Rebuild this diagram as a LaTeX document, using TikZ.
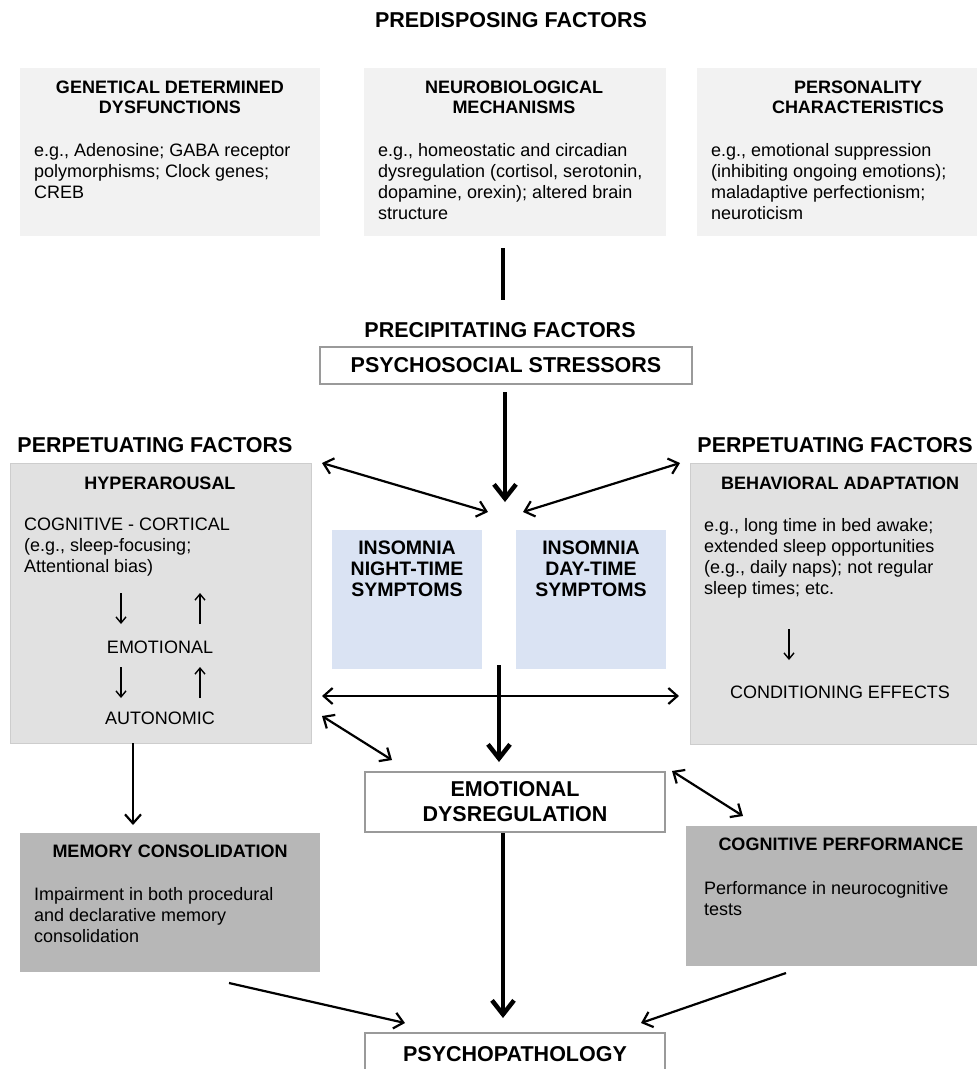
\documentclass[tikz,border=0pt]{standalone}
\usepackage{fontspec}
\setmainfont{Liberation Sans}
\usetikzlibrary{arrows.meta}
\definecolor{topgray}{HTML}{F2F2F2}
\definecolor{midgray}{HTML}{E1E1E1}
\definecolor{midborder}{HTML}{CDCDCD}
\definecolor{darkgray}{HTML}{B7B7B7}
\definecolor{insblue}{HTML}{DAE3F3}
\definecolor{boxborder}{HTML}{9A9A9A}
\tikzset{
  box/.style={anchor=north west, inner sep=0pt, outer sep=0pt},
  topbox/.style={box, fill=topgray},
  midbox/.style={box, fill=midgray, draw=midborder, line width=1pt},
  darkbox/.style={box, fill=darkgray},
  insbox/.style={box, fill=insblue},
  whitebox/.style={box, fill=white, draw=boxborder, line width=1.6pt},
  sectitle/.style={font=\bfseries\fontsize{21.5}{24}\selectfont, inner sep=0pt},
  bigtext/.style={font=\bfseries\fontsize{21.5}{25}\selectfont, inner sep=0pt, align=center},
  head/.style={font=\bfseries\fontsize{18}{20.5}\selectfont, inner sep=0pt, align=center},
  inshead/.style={font=\bfseries\fontsize{19.5}{21}\selectfont, inner sep=0pt, align=center, anchor=north},
  body/.style={font=\fontsize{18}{21}\selectfont, inner sep=0pt, align=left, anchor=north west},
  plain/.style={font=\fontsize{18}{21}\selectfont, inner sep=0pt},
  thin/.style={line width=2.2pt, -{Straight Barb[length=9pt,width=16pt]}},
  thinboth/.style={line width=2.2pt, {Straight Barb[length=9pt,width=16pt]}-{Straight Barb[length=9pt,width=16pt]}},
  thick/.style={line width=4.5pt, -{Straight Barb[length=14pt,width=22pt]}},
  glyph/.style={line width=1.4pt, -{Straight Barb[length=6pt,width=10pt]}},
}
\begin{document}
\begin{tikzpicture}[x=1pt,y=-1pt]
\clip (0,0) rectangle (977,1069);
\fill[white] (0,0) rectangle (977,1069);

% ---------- predisposing ----------
\node[sectitle] (tpre) at (511,20) {PREDISPOSING FACTORS};
\node[topbox, minimum width=300pt, minimum height=168pt] (gen) at (20,68) {};
\node[topbox, minimum width=302pt, minimum height=168pt] (neu) at (364,68) {};
\node[topbox, minimum width=300pt, minimum height=168pt] (per) at (697,68) {};
\node[head, anchor=north] (genh) at (170,80.5) {GENETICAL DETERMINED\\DYSFUNCTIONS};
\node[head, anchor=north] (neuh) at (514,80.5) {NEUROBIOLOGICAL\\MECHANISMS};
\node[head, anchor=north] (perh) at (858,80.5) {PERSONALITY\\CHARACTERISTICS};
\node[body] (genb) at (34,143.5) {e.g., Adenosine; GABA receptor\\polymorphisms; Clock genes;\\CREB};
\node[body] (neub) at (378,143.5) {e.g., homeostatic and circadian\\dysregulation (cortisol, serotonin,\\dopamine, orexin); altered brain\\structure};
\node[body] (perb) at (711,143.5) {e.g., emotional suppression\\(inhibiting ongoing emotions);\\maladaptive perfectionism;\\neuroticism};

\coordinate (l1a) at (503,248);
\coordinate (l1b) at (503,300);
\draw[line width=4.5pt] (l1a) -- (l1b);

% ---------- precipitating ----------
\node[sectitle] (tprec) at (500,330) {PRECIPITATING FACTORS};
\node[whitebox, minimum width=372pt, minimum height=37pt] (stress) at (320,347) {};
\node[bigtext] (stresst) at (stress.center) {PSYCHOSOCIAL STRESSORS};
\coordinate (a1a) at (505,392);
\coordinate (a1b) at (505,502);
\draw[thick] (a1a) -- (a1b);

% ---------- perpetuating ----------
\node[sectitle] (tpl) at (155,445) {PERPETUATING FACTORS};
\node[sectitle] (tpr) at (835,445) {PERPETUATING FACTORS};
\node[midbox, minimum width=301pt, minimum height=280pt] (hyp) at (10,463) {};
\node[midbox, minimum width=300pt, minimum height=281pt] (beh) at (690,463) {};
\node[head] (hyph) at (160,483) {HYPERAROUSAL};
\node[head] (behh) at (840,483) {BEHAVIORAL ADAPTATION};
\node[body] (hypb) at (24,517.5) {COGNITIVE - CORTICAL\\(e.g., sleep-focusing;\\Attentional bias)};
\coordinate (g1a) at (121,593); \coordinate (g1b) at (121,624);
\coordinate (g2a) at (200,624); \coordinate (g2b) at (200,593);
\coordinate (g3a) at (121,667); \coordinate (g3b) at (121,698);
\coordinate (g4a) at (200,698); \coordinate (g4b) at (200,667);
\draw[glyph] (g1a) -- (g1b);
\draw[glyph] (g2a) -- (g2b);
\draw[glyph] (g3a) -- (g3b);
\draw[glyph] (g4a) -- (g4b);
\node[plain] (emot) at (160,647) {EMOTIONAL};
\node[plain] (auto) at (160,718) {AUTONOMIC};
\node[body] (behb) at (704,518.5) {e.g., long time in bed awake;\\extended sleep opportunities\\(e.g., daily naps); not regular\\sleep times; etc.};
\coordinate (g5a) at (789,629); \coordinate (g5b) at (789,660);
\draw[glyph] (g5a) -- (g5b);
\node[plain] (cond) at (840,692) {CONDITIONING EFFECTS};

% ---------- insomnia ----------
\node[insbox, minimum width=150pt, minimum height=139pt] (night) at (332,530) {};
\node[insbox, minimum width=150pt, minimum height=139pt] (day) at (516,530) {};
\node[inshead] (nightt) at (407,541) {INSOMNIA\\NIGHT-TIME\\SYMPTOMS};
\node[inshead] (dayt) at (591,541) {INSOMNIA\\DAY-TIME\\SYMPTOMS};

\coordinate (d1a) at (322,463); \coordinate (d1b) at (488,512);
\coordinate (d2a) at (523,512); \coordinate (d2b) at (680,463);
\draw[thinboth] (d1a) -- (d1b);
\draw[thinboth] (d2a) -- (d2b);
\coordinate (ha) at (322,696); \coordinate (hb) at (679,696);
\draw[thinboth] (ha) -- (hb);
\coordinate (a2a) at (499,665); \coordinate (a2b) at (499,762);
\draw[thick] (a2a) -- (a2b);
\coordinate (d3a) at (322,716); \coordinate (d3b) at (392,760);
\draw[thinboth] (d3a) -- (d3b);

% ---------- emotional dysregulation ----------
\node[whitebox, minimum width=300pt, minimum height=60pt] (emo) at (365,772) {};
\node[bigtext] (emot2) at (emo.center) {EMOTIONAL\\DYSREGULATION};
\coordinate (d4a) at (672,771); \coordinate (d4b) at (743,816);
\draw[thinboth] (d4a) -- (d4b);

\coordinate (v1a) at (133,743); \coordinate (v1b) at (133,825);
\draw[thin] (v1a) -- (v1b);

% ---------- lower boxes ----------
\node[darkbox, minimum width=300pt, minimum height=139pt] (mem) at (20,833) {};
\node[head] (memh) at (170,851) {MEMORY CONSOLIDATION};
\node[body] (memb) at (34,887.5) {Impairment in both procedural\\and declarative memory\\consolidation};
\node[darkbox, minimum width=300pt, minimum height=140pt] (cog) at (686,826) {};
\node[head] (cogh) at (841,844) {COGNITIVE PERFORMANCE};
\node[body] (cogb) at (704,881.5) {Performance in neurocognitive\\tests};

\coordinate (a3a) at (503,833); \coordinate (a3b) at (503,1018);
\draw[thick] (a3a) -- (a3b);
\coordinate (b1a) at (229,983); \coordinate (b1b) at (405,1023);
\draw[thin] (b1a) -- (b1b);
\coordinate (b2a) at (786,973); \coordinate (b2b) at (641,1023);
\draw[thin] (b2a) -- (b2b);

\node[whitebox, minimum width=300pt, minimum height=60pt] (psy) at (365,1033) {};
\node[bigtext] (psyt) at (515,1054) {PSYCHOPATHOLOGY};
\end{tikzpicture}
\end{document}
